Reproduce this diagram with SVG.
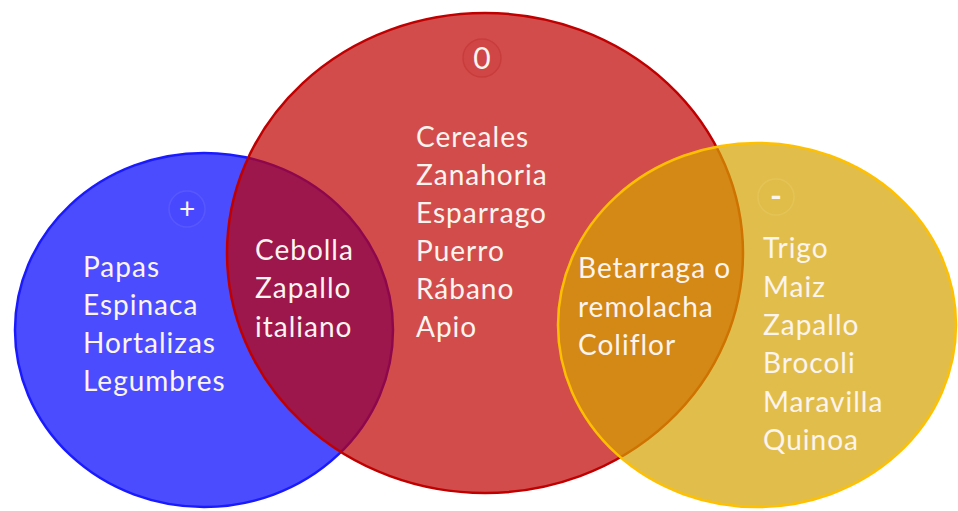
<svg xmlns="http://www.w3.org/2000/svg" width="958" height="511" viewBox="0 0 958 511">
  <style>
    .set { fill-opacity: 0.7; stroke-width: 2.5; }
    .txt { font-family: Lato, "Liberation Sans", sans-serif; font-size: 28px; letter-spacing: 1px; fill: #fcf4ef; }
    .mark { font-family: Lato, "Liberation Sans", sans-serif; fill: #fcf4ef; text-anchor: middle; }
  </style>
  <rect width="958" height="511" fill="#ffffff"/>

  <g id="set-plus">
    <ellipse class="set" cx="204" cy="330" rx="189" ry="177" fill="#0000ff" stroke="#1a1aff"/>
    <circle cx="187" cy="209" r="18" fill="#4848ff" stroke="#5858ff" stroke-width="1.5"/>
    <text class="mark" x="187" y="219" font-size="28">+</text>
    <text class="txt" x="83" y="277">Papas</text>
    <text class="txt" x="83" y="315">Espinaca</text>
    <text class="txt" x="83" y="353">Hortalizas</text>
    <text class="txt" x="83" y="391">Legumbres</text>
  </g>

  <g id="set-zero">
    <ellipse class="set" cx="485" cy="253" rx="258" ry="240" fill="#c00000" stroke="#c00000"/>
    <circle cx="482" cy="58" r="19" fill="#d04646" stroke="#c83c3c" stroke-width="1.5"/>
    <text class="mark" x="482" y="69" font-size="30">0</text>
    <text class="txt" x="416" y="147">Cereales</text>
    <text class="txt" x="416" y="185">Zanahoria</text>
    <text class="txt" x="416" y="223">Esparrago</text>
    <text class="txt" x="416" y="261">Puerro</text>
    <text class="txt" x="416" y="299">Rábano</text>
    <text class="txt" x="416" y="337">Apio</text>
  </g>

  <g id="set-minus">
    <ellipse class="set" cx="757" cy="325" rx="199" ry="182" fill="#d4a200" stroke="#ffc000"/>
    <circle cx="776" cy="197" r="18" fill="#e0bc48" stroke="#e4c456" stroke-width="1.5"/>
    <text class="mark" x="776" y="207" font-size="32" font-weight="bold">-</text>
    <text class="txt" x="763" y="258">Trigo</text>
    <text class="txt" x="763" y="297">Maiz</text>
    <text class="txt" x="763" y="335">Zapallo</text>
    <text class="txt" x="763" y="373">Brocoli</text>
    <text class="txt" x="763" y="412">Maravilla</text>
    <text class="txt" x="763" y="450">Quinoa</text>
  </g>

  <g id="overlap-plus-zero">
    <text class="txt" x="255" y="260">Cebolla</text>
    <text class="txt" x="255" y="298">Zapallo</text>
    <text class="txt" x="255" y="337">italiano</text>
  </g>

  <g id="overlap-zero-minus">
    <text class="txt" x="578" y="278">Betarraga o</text>
    <text class="txt" x="578" y="317">remolacha</text>
    <text class="txt" x="578" y="355">Coliflor</text>
  </g>
</svg>
